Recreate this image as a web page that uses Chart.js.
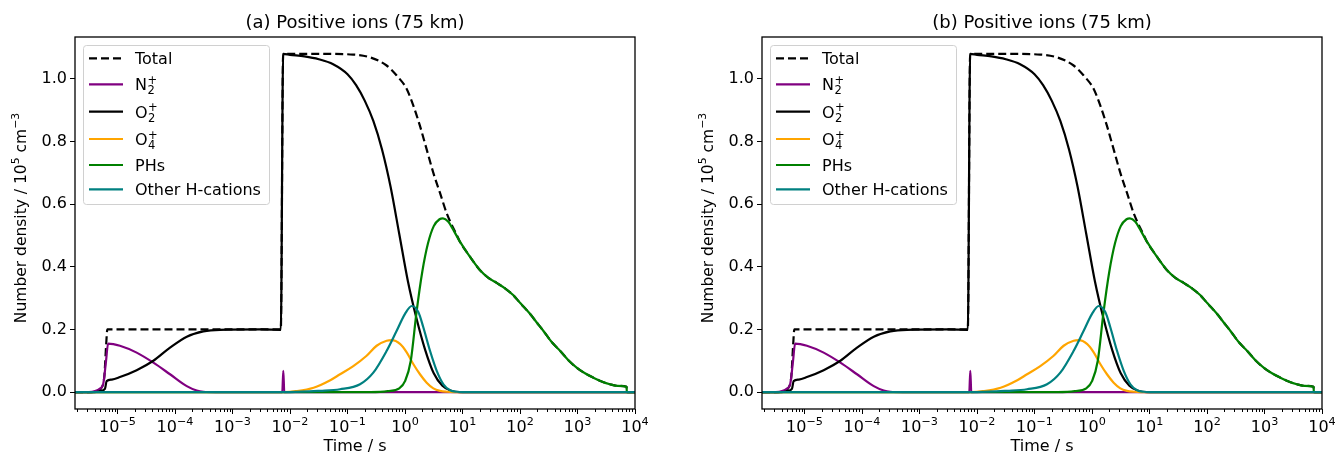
<!DOCTYPE html>
<html>
<head>
<meta charset="utf-8">
<script src="https://cdn.jsdelivr.net/npm/chart.js@4.4.0/dist/chart.umd.min.js"></script>
<style>
  html, body { margin: 0; padding: 0; background: #fff; overflow: hidden; }
  #wrap { position: relative; width: 1336px; height: 458px; overflow: hidden; }
  canvas { position: absolute; top: 0; }
  #panelA { left: 0; }
  #panelB { left: 687px; }
</style>
</head>
<body>
<div id="wrap">
  <canvas id="panelA" width="668" height="458"></canvas>
  <canvas id="panelB" width="668" height="458"></canvas>
</div>
<script>
// time axis (s) and number density (10^5 cm^-3)
const xMin = 1.82e-6;
const xMax = 1e4;
const xMajorTicks = [1e-5, 1e-4, 1e-3, 1e-2, 1e-1, 1, 10, 100, 1000, 10000];
const xMajorExp = ['\u22125', '\u22124', '\u22123', '\u22122', '\u22121', '0', '1', '2', '3', '4'];
const yTicks = [0, 0.2, 0.4, 0.6, 0.8, 1.0];

const totalTime = [1.82e-6, 3.55e-6, 4.63e-6, 5.31e-6, 5.89e-6, 6.31e-6, 6.65e-6, 6.92e-3, 7.59e-3, 3.33e-2, 0.126, 0.246, 0.479, 0.716, 1.07, 1.40, 1.82, 2.38, 3.11, 4.06, 5.31, 6.93, 7.93, 8.91, 12.6, 20, 28.2, 39.8, 56.2, 75.9, 100, 149, 200, 254, 355, 497, 708, 968, 1349, 1884, 2630, 3673, 5012, 7161, 7194, 1e4];
const totalValue = [0, 0, 0.005, 0.015, 0.05, 0.145, 0.2, 0.2, 1.08, 1.08, 1.078, 1.069, 1.043, 1.011, 0.968, 0.914, 0.85, 0.775, 0.70, 0.636, 0.571, 0.523, 0.502, 0.482, 0.44, 0.39, 0.365, 0.348, 0.33, 0.31, 0.285, 0.25, 0.22, 0.196, 0.16, 0.132, 0.10, 0.078, 0.06, 0.046, 0.034, 0.025, 0.02, 0.017, 0, 0];

const n2Time = [1.82e-6, 3.16e-6, 4.07e-6, 5.01e-6, 5.62e-6, 6.31e-6, 6.84e-6, 1.10e-5, 2.15e-5, 4.20e-5, 8.18e-5, 1.60e-4, 2.38e-4, 3.11e-4, 5.01e-4, 7.33e-3, 7.64e-3, 7.94e-3, 1e4];
const n2Value = [0, 0, 0.003, 0.012, 0.025, 0.1, 0.155, 0.148, 0.126, 0.094, 0.057, 0.019, 0.005, 0.001, 0, 0, 0.068, 0, 0];

const o2Time = [1.82e-6, 3.98e-6, 5.01e-6, 6.03e-6, 6.46e-6, 7.94e-6, 1.10e-5, 2.15e-5, 4.20e-5, 8.18e-5, 1.60e-4, 3.11e-4, 6.07e-4, 3.16e-3, 6.92e-3, 7.59e-3, 1e-2, 1.78e-2, 3.16e-2, 5.62e-2, 0.1, 0.141, 0.2, 0.282, 0.398, 0.562, 0.794, 1.12, 1.585, 2.24, 3.16, 4.47, 6.31, 8.91, 1e4];
const o2Value = [0, 0, 0.003, 0.01, 0.035, 0.04, 0.048, 0.07, 0.1, 0.142, 0.177, 0.194, 0.199, 0.2, 0.199, 1.08, 1.077, 1.072, 1.063, 1.047, 1.015, 0.98, 0.93, 0.865, 0.775, 0.655, 0.505, 0.355, 0.235, 0.135, 0.06, 0.02, 0.004, 0, 0];

const o4Time = [1.82e-6, 7.94e-3, 1.26e-2, 2.57e-2, 5.01e-2, 7.41e-2, 0.126, 0.215, 0.321, 0.479, 0.586, 0.818, 1.07, 1.40, 1.82, 2.38, 3.11, 4.06, 5.31, 7.08, 1e4];
const o4Value = [0, 0, 0.003, 0.014, 0.038, 0.057, 0.083, 0.116, 0.148, 0.164, 0.166, 0.154, 0.127, 0.089, 0.057, 0.030, 0.012, 0.004, 0.001, 0, 0];

const phTime = [1.82e-6, 0.251, 0.501, 0.794, 1, 1.26, 1.585, 2.0, 2.51, 3.16, 3.98, 4.57, 5.62, 7.08, 8.91, 12.6, 20, 28.2, 39.8, 56.2, 75.9, 100, 149, 200, 254, 355, 497, 708, 968, 1349, 1884, 2630, 3673, 5012, 7161, 7194, 1e4];
const phValue = [0, 0, 0.003, 0.012, 0.035, 0.1, 0.255, 0.385, 0.475, 0.53, 0.552, 0.555, 0.545, 0.515, 0.482, 0.44, 0.39, 0.365, 0.348, 0.33, 0.31, 0.285, 0.25, 0.22, 0.196, 0.16, 0.132, 0.10, 0.078, 0.06, 0.046, 0.034, 0.025, 0.02, 0.017, 0, 0];

const otherTime = [1.82e-6, 1e-2, 3.33e-2, 7.41e-2, 0.165, 0.281, 0.48, 0.716, 1, 1.31, 1.71, 2.08, 2.72, 3.56, 4.65, 6.07, 7.94, 10, 1e4];
const otherValue = [0, 0, 0.004, 0.009, 0.025, 0.062, 0.132, 0.196, 0.25, 0.275, 0.255, 0.207, 0.132, 0.068, 0.025, 0.006, 0.001, 0, 0];

const FONT = 'DejaVu Sans';
Chart.defaults.font.family = FONT;
Chart.defaults.color = '#000';

const isDecade = v => Math.abs(Math.log10(v) - Math.round(Math.log10(v))) < 1e-6;

function pts(t, v) {
    return t.map((x, i) => ({x: x, y: v[i]}));
}

// legend entries: base text, subscript, superscript
const legendItems = [
    {text: 'Total', color: '#000000', dash: [8, 4]},
    {text: 'N', sub: '2', sup: '+', color: '#800080'},
    {text: 'O', sub: '2', sup: '+', color: '#000000'},
    {text: 'O', sub: '4', sup: '+', color: '#FFA500'},
    {text: 'PHs', color: '#008000'},
    {text: 'Other H-cations', color: '#008080'}
];
const legendRowY = [13.3, 39.3, 66.7, 94, 120, 144.3];

// draws pieces like [['Number density / 10', false], ['5', true]] left to right
function drawMath(ctx, parts, x, y, size) {
    let cx = x;
    parts.forEach(([s, sup]) => {
        ctx.font = (sup ? size * 0.7 : size) + 'px "' + FONT + '"';
        ctx.fillText(s, cx, sup ? y - size * 0.44 : y);
        cx += ctx.measureText(s).width;
    });
}
function mathWidth(ctx, parts, size) {
    let w = 0;
    parts.forEach(([s, sup]) => {
        ctx.font = (sup ? size * 0.7 : size) + 'px "' + FONT + '"';
        w += ctx.measureText(s).width;
    });
    return w;
}

const figurePlugin = {
    id: 'figurePlugin',
    afterDatasetsDraw(chart) {
        const {ctx, chartArea: a} = chart;
        const x0 = a.left + 8, y0 = a.top + 8, w = 186, h = 159;
        ctx.save();
        ctx.beginPath();
        ctx.roundRect(x0 + 0.5, y0 + 0.5, w, h, 3);
        ctx.fillStyle = 'rgba(255,255,255,0.8)';
        ctx.fill();
        ctx.strokeStyle = '#d0d0d0';
        ctx.lineWidth = 1;
        ctx.stroke();
        legendItems.forEach((it, i) => {
            const y = y0 + legendRowY[i];
            ctx.beginPath();
            ctx.setLineDash(it.dash || []);
            ctx.strokeStyle = it.color;
            ctx.lineWidth = 2.2;
            ctx.moveTo(x0 + 6, y);
            ctx.lineTo(x0 + 40, y);
            ctx.stroke();
            ctx.setLineDash([]);
            ctx.fillStyle = '#000';
            ctx.textBaseline = 'alphabetic';
            ctx.textAlign = 'left';
            ctx.font = '16px "' + FONT + '"';
            const tx = x0 + 52;
            ctx.fillText(it.text, tx, y + 6);
            if (it.sub) {
                const bw = ctx.measureText(it.text).width + 0.5;
                ctx.font = '11.5px "' + FONT + '"';
                ctx.fillText(it.sub, tx + bw, y + 10);
                ctx.fillText(it.sup, tx + bw, y - 0.5);
            }
        });
        ctx.restore();
    },
    afterDraw(chart) {
        const {ctx, chartArea: a, scales} = chart;
        ctx.save();
        ctx.strokeStyle = '#000';
        ctx.fillStyle = '#000';
        ctx.lineWidth = 1;
        // minor x ticks
        scales.x.ticks.forEach(t => {
            if (isDecade(t.value)) return;
            const px = Math.round(scales.x.getPixelForValue(t.value)) + 0.5;
            ctx.beginPath();
            ctx.moveTo(px, a.bottom);
            ctx.lineTo(px, a.bottom + 3);
            ctx.stroke();
        });
        // major x tick labels, 10 with raised exponent
        ctx.textBaseline = 'alphabetic';
        ctx.textAlign = 'left';
        xMajorTicks.forEach((v, i) => {
            const parts = [['10', false], [xMajorExp[i], true]];
            const px = scales.x.getPixelForValue(v);
            drawMath(ctx, parts, px - mathWidth(ctx, parts, 16) / 2, a.bottom + 23, 16);
        });
        // y axis title
        const yParts = [['Number density / 10', false], ['5', true], [' cm', false], ['\u22123', true]];
        ctx.save();
        ctx.translate(25.5, (a.top + a.bottom) / 2 - 5);
        ctx.rotate(-Math.PI / 2);
        drawMath(ctx, yParts, -mathWidth(ctx, yParts, 15.5) / 2, 0, 15.5);
        ctx.restore();
        // panel title
        ctx.font = '18px "' + FONT + '"';
        ctx.textAlign = 'center';
        ctx.fillText(chart.options.panelTitle, (a.left + a.right) / 2, 27.5);
        // axes frame
        ctx.lineWidth = 1.3;
        ctx.strokeRect(a.left, a.top, a.right - a.left, a.bottom - a.top);
        ctx.restore();
    }
};

function makeChart(id, title) {
    return new Chart(document.getElementById(id), {
        type: 'line',
        data: {
            datasets: [
                {label: 'Total', data: pts(totalTime, totalValue), borderColor: '#000000', borderDash: [8, 4], order: 6},
                {label: 'N2+', data: pts(n2Time, n2Value), borderColor: '#800080', order: 5},
                {label: 'O2+', data: pts(o2Time, o2Value), borderColor: '#000000', order: 4},
                {label: 'O4+', data: pts(o4Time, o4Value), borderColor: '#FFA500', order: 3},
                {label: 'PHs', data: pts(phTime, phValue), borderColor: '#008000', order: 2},
                {label: 'Other H-cations', data: pts(otherTime, otherValue), borderColor: '#008080', order: 1}
            ]
        },
        options: {
            panelTitle: title,
            responsive: false,
            animation: false,
            layout: { padding: { left: 0, right: 33, top: 37, bottom: 0 } },
            elements: {
                line: { borderWidth: 2.2, cubicInterpolationMode: 'monotone', fill: false },
                point: { radius: 0, hoverRadius: 0 }
            },
            plugins: {
                legend: { display: false },
                tooltip: { enabled: false },
                title: { display: false }
            },
            scales: {
                x: {
                    type: 'logarithmic',
                    min: xMin,
                    max: xMax,
                    border: { display: false },
                    grid: {
                        drawOnChartArea: false,
                        drawTicks: true,
                        tickLength: 5,
                        tickWidth: 1,
                        tickColor: c => (c.tick && isDecade(c.tick.value)) ? '#000' : 'rgba(0,0,0,0)'
                    },
                    afterBuildTicks: s => {
                        const ticks = [];
                        xMajorTicks.forEach(m => {
                            for (let k = 2; k <= 9; k++) {
                                if (k * m / 10 >= xMin) ticks.push({value: k * m / 10});
                            }
                            ticks.push({value: m});
                        });
                        s.ticks = ticks;
                    },
                    afterFit: s => { s.height = 49; },
                    ticks: {
                        autoSkip: false,
                        maxRotation: 0,
                        minRotation: 0,
                        callback: () => ''
                    },
                    title: {
                        display: true,
                        text: 'Time / s',
                        font: { size: 16 },
                        padding: { top: 0, bottom: 2 }
                    }
                },
                y: {
                    type: 'linear',
                    min: -0.054,
                    max: 1.134,
                    border: { display: false },
                    grid: {
                        drawOnChartArea: false,
                        drawTicks: true,
                        tickLength: 5,
                        tickWidth: 1,
                        tickColor: '#000'
                    },
                    afterBuildTicks: s => { s.ticks = yTicks.map(v => ({value: v})); },
                    afterFit: s => { s.width = 75; },
                    ticks: {
                        padding: 3,
                        font: { size: 16 },
                        callback: v => v.toFixed(1)
                    }
                }
            }
        },
        plugins: [figurePlugin]
    });
}

makeChart('panelA', '(a) Positive ions (75 km)');
makeChart('panelB', '(b) Positive ions (75 km)');
</script>
</body>
</html>
